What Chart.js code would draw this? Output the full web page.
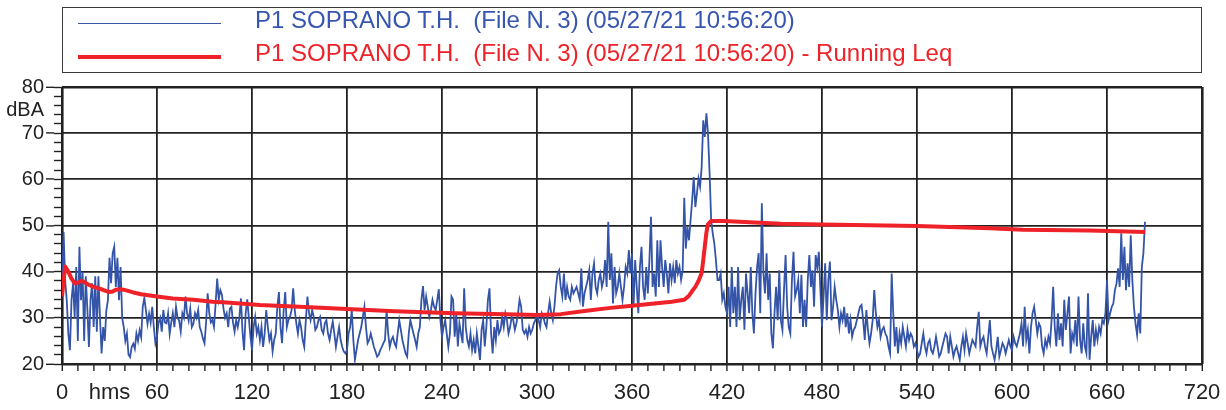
<!DOCTYPE html>
<html>
<head>
<meta charset="utf-8">
<script src="https://cdn.jsdelivr.net/npm/chart.js@4.4.1/dist/chart.umd.min.js"></script>
<style>
html,body{margin:0;padding:0;background:#fff;}
#wrap{position:relative;width:1226px;height:410px;overflow:hidden;background:#fff;}
#c{position:absolute;left:0;top:0;}
#legend{position:absolute;left:62px;top:7px;width:1140px;height:66px;box-sizing:border-box;border:1.5px solid #3a3a3a;}
.sw{position:absolute;left:78px;width:143px;}
.txt{position:absolute;left:255px;white-space:pre;font-family:"Liberation Sans",Arial,sans-serif;font-size:24px;line-height:24px;}
</style>
</head>
<body>
<div id="wrap">
  <canvas id="c" width="1226" height="410"></canvas>
  <div id="legend"></div>
  <div class="sw" style="top:22.5px;height:1.6px;background:#3656a8;"></div>
  <div class="txt" id="t1" style="top:8px;color:#3656b0;"></div>
  <div class="sw" style="top:55px;height:4px;background:#ee2228;"></div>
  <div class="txt" id="t2" style="top:41.4px;color:#ee2228;"></div>
</div>
<script>
// ---- series names ----
const seriesNames = [
  "P1 SOPRANO T.H.  (File N. 3) (05/27/21 10:56:20)",
  "P1 SOPRANO T.H.  (File N. 3) (05/27/21 10:56:20) - Running Leq"
];
// ---- axis tick labels ----
const xLabelValues = [0, 60, 120, 180, 240, 300, 360, 420, 480, 540, 600, 660, 720];
const yLabelValues = [20, 30, 40, 50, 60, 70, 80];
const xUnit = "hms";
const yUnit = "dBA";

// ---- sound level, one value per second from t = 0 s ----
const levels = [
35,48.6,38,33.8,26.6,23,33.8,37.5,30,41,
25,45.4,33.8,40,25,39,32,23.7,33.8,37.5,
28,39,27,39,30,22.3,28,25,31.6,33.8,
43,37.5,44,45.4,36.7,43,33.8,41,30,28,
25,26.6,22,21.5,23.7,24.4,23.3,26.6,25,27.3,
25.8,32.4,34.3,31.6,28.7,30.9,29,32.4,28,24.5,
26,29,30,27,31.7,29,28.8,31,26.5,29,
31,28,32.4,30,29.4,27,31,30,34.6,31,
29.4,32,28,28.7,31,30,31.7,28,27,25.5,
24.5,29,35.3,31,29,29.5,28,33,38.5,34,
36,35,32,30,31,28,32,32.4,29,27,
29.5,28,30,34.2,27,23,31,34,30,26,
23,28,30.2,26.6,28,25.2,28,23.7,26.6,31.7,
28,25.2,26.6,22.7,25.2,26.6,32.4,35.6,28,24.5,
31.7,35.6,28,29.5,30.2,31.7,36.4,31.7,28.8,26.6,
29.5,28,25.2,23.7,29.5,34.6,31,29.5,31.7,30.2,
27.4,28,29.5,30.2,27.4,26.6,28.8,29.5,26.6,25.2,
27.4,29.2,26.6,23.7,25.9,28,25.2,23.7,22.7,22.3,
23,26.6,28,31.7,25.2,20.9,23,25.2,26.6,28,
30.2,32.4,28,24.5,25.2,26.6,25.2,23.7,22.7,21.6,
22,23,23.7,24.5,25.2,31.7,26.6,23.7,25.2,25.9,
24.5,23.7,26.6,29.5,27.4,25.2,23.7,22.3,21.6,26.6,
29.5,28,26.6,25.2,23.7,26.6,28,33.9,36.9,31.7,
34.6,32.4,30.2,31.7,33.9,32.4,31.7,33.9,36.2,29.5,
25.9,28,29.5,26.6,23.7,26.6,34.6,33.9,25.9,31,
23.8,28.8,26.6,24.5,36.4,28,25.2,23.8,26.6,23,
25.2,22.3,26.6,23.8,20.9,27.4,29.5,23.8,28,33.9,
36.4,26.6,22.3,28,25.2,29.5,26.6,27.4,30.2,28,
31,29.5,26.6,28,30.2,29.5,27.4,28.8,31,33.9,
32.4,27.4,26.6,27.4,25.9,28,26.6,27.4,28.8,29.5,
31,29.5,28,31,30.2,28.8,28,31,33.5,31,
29.5,32.4,36.7,39.6,40.3,36.7,34.6,39.6,33.9,36.7,
34.6,33.9,36.7,35.3,36,36.7,35.3,33.9,40.7,32.4,
35.3,36.7,38.2,40.3,33.9,39.6,41.8,36.7,35.3,38.2,
39.6,36.7,38.2,42.5,36.7,50.8,38.2,44,33.1,41,
35.3,36.7,39.6,36.7,33.9,36.7,41,39.6,44.7,39.6,
44,32.4,42.5,36.7,31,41,45.4,36.7,33.9,41,
35.3,42.5,51.9,36.7,39.6,34.6,46.8,36.7,46.8,41,
36.7,42.5,39.6,35.3,41.8,38.2,41,37.5,42.5,39.6,
41,38.2,40.3,56,45,49.7,46.8,51.2,55.5,60.5,
54,56.9,60.2,58.4,62.7,72.8,69.2,74.3,69.9,61.3,
51.2,48.3,46.1,42.5,38.2,38.2,39.6,33.9,35.3,32.4,
31,36.7,28,41,31,36.7,28,41,29.5,33.9,
36.7,27.4,39.6,35.3,31,41,31,26.6,35.3,41,
44,31,54.8,39.6,35.3,44,33.9,39.6,26.6,23.4,
31,36.7,29.5,40.3,29.5,27.4,36,43.6,32.4,28,
26.6,38.2,44.3,34.6,36,38.2,31,39.3,28,33.9,
28,38.2,43.6,36.7,40.3,32.4,43.6,41,44.3,36,
28,34.6,41.8,29.5,38.2,42.2,29.5,32.4,36.7,33.9,
31.7,28,31,29.5,32.4,28,31,26.6,29.5,25.9,
27.4,28,29.5,31,32.4,32.8,29.5,25.2,31.7,27.4,
24.5,26.6,29.5,36,31,28,29.5,25.9,27.4,28,
26.6,25.9,23.8,22.3,39.6,31,23.8,28,22.3,26.6,
24.5,28,25.9,23.8,27.4,25.2,26.6,25.9,23.8,24.5,
23,21.6,22.3,24.5,26.6,23.8,22.3,24.5,25.2,23,
22.3,23.8,25.9,23.8,21.6,22.3,23.8,25.2,26.6,25.9,
22.3,25.9,23.8,21.6,23,23.8,22.3,20.9,23.8,25.9,
23,26.6,24.5,22.3,23.8,25.2,24.5,23.8,28,31.3,
23.8,25.2,25.9,23.8,22.3,25.9,29.5,23.8,22.3,20.9,
23,25.9,21.6,23,24.5,23.8,22.3,23.8,25.2,23.8,
23,25.9,24.5,23.8,25.2,26.6,28.8,23.8,32.4,25.2,
27.4,22.3,28,31,32.4,29.5,26.6,28.8,28,23.8,
22.3,25.2,23.8,25.9,24.5,29.5,36.7,28,23.8,31,
25.2,28.8,23.8,33.9,27.4,31,34.6,22.3,26.6,25.2,
29.5,23.8,34.6,25.2,22.3,28.8,23.8,22.3,35.3,20.9,
25.9,29.5,23.8,27.4,25.2,28,26.6,29.5,28.8,31,
38.2,29.5,31,32.4,33.1,36,37.4,40.7,36.7,48.3,
38.2,45.4,36,41.8,36.7,47.9,38.2,32.4,28.8,26.3,
31,26.6,41,44,50.8
];

// ---- running Leq, read at these times (s) ----
const leqTimes = [0,1,2,4,6,8,10,12,14,16,20,24,28,30,32,34,37,40,45,50,60,70,83,95,104,125,150,180,210,248,280,300,315,330,345,360,371,385,393,396,398,400,402,404,405,406,407,408,410,418,454,480,540,586,607,649,684];
const leqValues = [34.6,38,41.1,40,38.5,37.5,37.6,38,37.8,37.3,36.7,36.3,35.8,35.6,35.7,36.1,36.2,36,35.5,35.1,34.6,34.2,33.9,33.5,33.3,32.8,32.4,31.9,31.4,31,30.8,30.6,30.8,31.5,32.1,32.6,33,33.5,33.9,34.8,35.8,36.7,38,39.7,42.5,45.5,48.5,50.3,51,51,50.4,50.2,49.9,49.4,49.1,48.9,48.6];

document.getElementById('t1').textContent = seriesNames[0];
document.getElementById('t2').textContent = seriesNames[1];

const DARK = '#222222';
const CLEAR = 'rgba(0,0,0,0)';
const FONT = '"Liberation Sans", Arial, sans-serif';

new Chart(document.getElementById('c'), {
  type: 'line',
  data: {
    datasets: [
      {
        label: seriesNames[0],
        data: levels.map((v, i) => ({x: i, y: v})),
        borderColor: '#3454a8',
        borderWidth: 1.8,
        pointRadius: 0,
        tension: 0,
        order: 2
      },
      {
        label: seriesNames[1],
        data: leqTimes.map((t, i) => ({x: t, y: leqValues[i]})),
        borderColor: '#ee2228',
        borderWidth: 4,
        pointRadius: 0,
        tension: 0,
        borderJoinStyle: 'round',
        order: 1
      }
    ]
  },
  options: {
    responsive: false,
    animation: false,
    devicePixelRatio: 1,
    layout: {padding: {top: 87, right: 24, bottom: 0, left: 0}},
    plugins: {legend: {display: false}, tooltip: {enabled: false}},
    scales: {
      x: {
        type: 'linear',
        position: 'bottom',
        min: 0, max: 720,
        afterFit: s => { s.height = 46; s.paddingLeft = 0; s.paddingRight = 0; },
        border: {display: false},
        ticks: {
          stepSize: 10,
          autoSkip: false,
          maxRotation: 0,
          padding: 9,
          color: DARK,
          font: {family: FONT, size: 22},
          callback: v => xLabelValues.includes(v) ? String(v) : (v === 30 ? xUnit : '')
        },
        grid: {
          color: ctx => (ctx.tick && ctx.tick.value % 60 === 0) ? DARK : CLEAR,
          lineWidth: ctx => (ctx.tick && (ctx.tick.value === 0 || ctx.tick.value === 720)) ? 2.6 : 1.8,
          tickColor: DARK,
          tickWidth: 1.4,
          tickLength: 7
        }
      },
      y: {
        position: 'left',
        min: 20, max: 80,
        weight: 1,
        afterBuildTicks: axis => { axis.ticks = yLabelValues.concat([75]).map(v => ({value: v})); },
        afterFit: s => { s.width = 54; },
        border: {display: false},
        ticks: {
          padding: 2,
          color: DARK,
          font: {family: FONT, size: 20},
          callback: v => v === 75 ? yUnit : String(v)
        },
        grid: {
          color: ctx => (ctx.tick && ctx.tick.value === 75) ? CLEAR : DARK,
          lineWidth: ctx => (ctx.tick && (ctx.tick.value === 20 || ctx.tick.value === 80)) ? 2.6 : 1.8,
          tickColor: ctx => (ctx.tick && ctx.tick.value === 75) ? CLEAR : DARK,
          tickWidth: 1.4,
          tickLength: 8
        }
      },
      yMinor: {
        position: 'left',
        min: 20, max: 80,
        weight: 0,
        afterFit: s => { s.width = 8; },
        border: {display: false},
        ticks: {display: false, stepSize: 2},
        grid: {
          drawOnChartArea: false,
          color: DARK,
          tickColor: DARK,
          tickWidth: 1.4,
          tickLength: 8
        }
      }
    }
  }
});
</script>
</body>
</html>
